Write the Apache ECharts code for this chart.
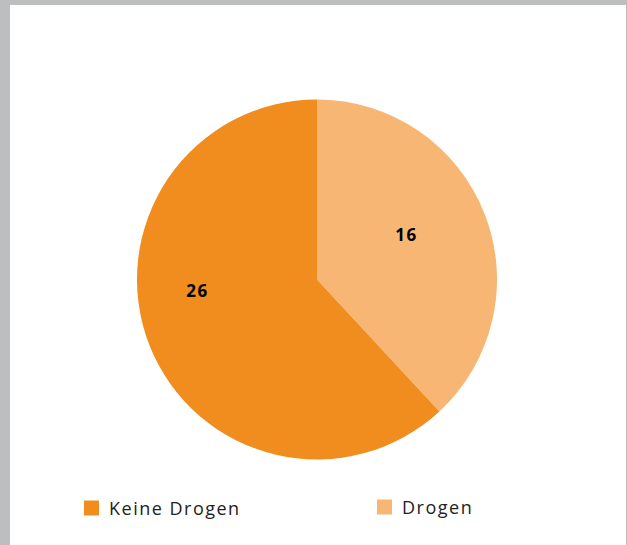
<!DOCTYPE html>
<html lang="de">
<head>
    <meta charset="UTF-8">
    <title>Drogen</title>
    <style>
        body{ margin:0; background:#bdbec0; }
        #paper{ position:absolute; left:10px; top:5px; width:616px; height:540px; background:#fff; }
        #main{ position:absolute; left:0; top:0; width:627px; height:545px; }
        /* spaced legend text like the source */
        #main text{ letter-spacing:1.5px; }
    </style>
    <script src="https://cdn.jsdelivr.net/npm/echarts@6/dist/echarts.min.js"></script>
</head>
<body>
<div id="paper"></div>
<div id="main"></div>
<script type="text/javascript">
    var categories = ['Drogen', 'Keine Drogen'];
    var values = [16, 26];
    var colors = ['#f7b673', '#f18d1f'];
    // label nudges (the source tool puts them a bit off the mid angle)
    var labelOffsets = [[3, -11], [-33, -23]];

    var myChart = echarts.init(document.getElementById('main'), null, { renderer: 'svg' });

    var pieData = categories.map(function (name, i) {
        return {
            name: name,
            value: values[i],
            itemStyle: { color: colors[i] },
            label: { offset: labelOffsets[i] }
        };
    });

    var legendText = {
        fontFamily: 'Open Sans',
        fontSize: 18,
        color: '#222',
        padding: [0, 0, 0, 5]
    };

    var option = {
        animation: false,
        legend: [{
            data: ['Keine Drogen'],
            left: 84, top: 499,
            padding: 0,
            itemWidth: 15, itemHeight: 15,
            icon: 'rect',
            textStyle: legendText
        }, {
            data: ['Drogen'],
            left: 377, top: 498,
            padding: 0,
            itemWidth: 15, itemHeight: 15,
            icon: 'rect',
            textStyle: legendText
        }],
        series: [{
            type: 'pie',
            center: [317, 279.5],
            radius: 180,
            startAngle: 90,
            clockwise: true,
            silent: true,
            label: {
                position: 'inside',
                formatter: '{c}',
                color: '#000',
                fontFamily: 'Open Sans',
                fontWeight: 'bold',
                fontSize: 17
            },
            labelLine: { show: false },
            data: pieData
        }]
    };
    myChart.setOption(option);
</script>
</body>
</html>
